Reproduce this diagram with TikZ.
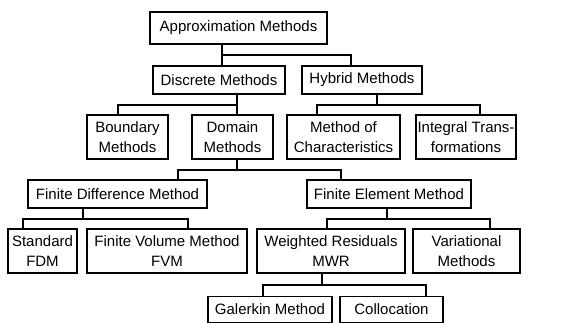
\documentclass[tikz,border=0pt]{standalone}
\usepackage{fontspec}
\setmainfont{Liberation Sans}

\begin{document}
\begin{tikzpicture}[x=1pt, y=-1pt, line width=1.2pt,
    box/.style={draw, align=center, inner xsep=1pt, inner ysep=0pt,
      minimum height=28pt, font=\fontsize{15}{20}\selectfont},
    tall/.style={box, minimum height=44pt}]
  \useasboundingbox (0,0) rectangle (576,323);
  % boxes
  \node[box, minimum width=177pt, minimum height=32pt] (apm) at (238.5,28) {Approximation Methods};
  \node[box, minimum width=132pt] (dis) at (219,80) {Discrete Methods};
  \node[box, minimum width=120pt] (hyb) at (362,80) {Hybrid Methods};
  \node[tall, minimum width=81pt] (bnd) at (127.5,137) {Boundary\\Methods};
  \node[tall, minimum width=81pt] (dom) at (232.5,137) {Domain\\Methods};
  \node[tall, minimum width=113pt] (moc) at (343.5,137) {Method of\\Characteristics};
  \node[tall, minimum width=100pt] (itr) at (466,137) {Integral Trans-\\formations};
  \node[box, minimum width=179pt] (fdm) at (117.5,194) {Finite Difference Method};
  \node[box, minimum width=164pt] (fem) at (389,194) {Finite Element Method};
  \node[tall, minimum width=69pt] (std) at (42.5,251) {Standard\\FDM};
  \node[tall, minimum width=160pt] (fvm) at (167,251) {Finite Volume Method\\FVM};
  \node[tall, minimum width=148pt] (mwr) at (331,251) {Weighted Residuals\\MWR};
  \node[tall, minimum width=107pt] (var) at (466.5,251) {Variational\\Methods};
  \node[box, minimum width=124pt, minimum height=26pt] (gal) at (270,309.5) {Galerkin Method};
  \node[box, minimum width=103pt, minimum height=26pt] (col) at (391.5,309.5) {Collocation};
  % junctions
  \coordinate (j1) at (222,55);
  \coordinate (j2) at (237,105);
  \coordinate (j3) at (377,105);
  \coordinate (j4) at (237,170);
  \coordinate (j5) at (83,219);
  \coordinate (j6) at (387,219);
  \coordinate (j7) at (322,285);
  % connectors
  \draw (apm.south -| j1) -- (dis.north -| j1);
  \draw (j1) -| ([xshift=-11pt]hyb.north);
  \draw (dis.south -| j2) -- (dom.north -| j2);
  \draw (j2) -| ([xshift=-9.5pt]bnd.north);
  \draw (hyb.south -| j3) -- (j3);
  \draw ([xshift=-26.5pt]moc.north) |- (j3) -| ([xshift=14pt]itr.north);
  \draw (dom.south -| j4) -- (j4);
  \draw ([xshift=60.5pt]fdm.north) |- (j4) -| ([xshift=-48pt]fem.north);
  \draw (fdm.south -| j5) -- (j5);
  \draw ([xshift=-19.5pt]std.north) |- (j5) -| ([xshift=21pt]fvm.north);
  \draw (fem.south -| j6) -- (j6);
  \draw ([xshift=-4pt]mwr.north) |- (j6) -| ([xshift=23.5pt]var.north);
  \draw (mwr.south -| j7) -- (j7);
  \draw ([xshift=-7pt]gal.north) |- (j7) -| ([xshift=34.5pt]col.north);
\end{tikzpicture}
\end{document}
